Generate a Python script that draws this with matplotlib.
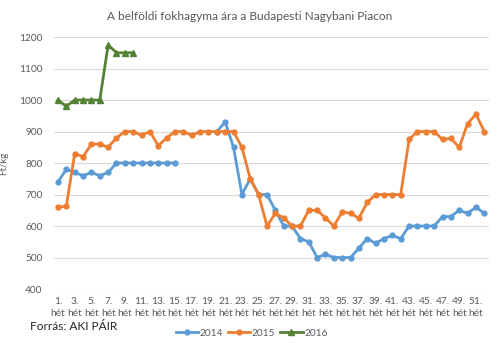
import numpy as np
import matplotlib
matplotlib.use('Agg')
import matplotlib.pyplot as plt

plt.rcParams['font.family'] = ['Lato', 'DejaVu Sans']

nan = np.nan
weeks = list(range(1, 53))
week_labels = ['%d.\nhét' % w if w % 2 == 1 else '' for w in weeks]

# 2014: weeks 16-19 missing
p2014 = [740, 780, 770, 760, 770, 760, 770, 800, 800, 800,
         800, 800, 800, 800, 800, nan, nan, nan, nan, 900,
         930, 850, 700, 750, 700, 700, 650, 600, 600, 560,
         550, 500, 510, 500, 500, 500, 530, 560, 545, 560,
         570, 560, 600, 600, 600, 600, 630, 630, 650, 640,
         660, 640]
p2015 = [660, 663, 830, 820, 860, 860, 850, 880, 900, 900,
         888, 900, 855, 880, 900, 900, 888, 900, 900, 900,
         900, 900, 850, 750, 700, 600, 640, 626, 600, 600,
         650, 650, 626, 600, 645, 640, 625, 675, 700, 700,
         700, 700, 875, 900, 900, 900, 875, 878, 850, 925,
         955, 900]
p2016 = [1000, 980, 1000, 1000, 1000, 1000, 1175, 1150, 1150, 1150]

gray = '#595959'

fig = plt.figure(figsize=(5, 3.46), dpi=100)
ax = fig.add_axes([0.1076, 0.1647, 0.8694, 0.7283])

ax.plot(weeks, p2014, color='#5B9BD5', lw=2, marker='o', ms=3.5, label='2014')
ax.plot(weeks, p2015, color='#ED7D31', lw=2, marker='o', ms=3.5, label='2015')
ax.plot(weeks[:len(p2016)], p2016, color='#548235', lw=2, marker='^', ms=4, label='2016')

ax.set_xlim(0.5, 52.5)
ax.set_ylim(400, 1200)
ax.set_yticks(range(400, 1201, 100))
ax.set_xticks(weeks)
ax.set_xticklabels(week_labels, linespacing=1.45)
ax.tick_params(axis='both', length=0, labelsize=7.3, colors=gray)
ax.tick_params(axis='y', pad=8)
ax.tick_params(axis='x', pad=6)
ax.grid(axis='y', color='#D9D9D9', lw=0.8)
ax.set_axisbelow(True)
for s in ax.spines.values():
    s.set_visible(False)

ax.set_ylabel('Ft/kg', fontsize=7, color=gray, labelpad=8)
fig.text(0.5, 0.953, 'A belföldi fokhagyma ára a Budapesti Nagybani Piacon',
         ha='center', va='center', fontsize=8.6, color=gray)
fig.text(0.06, 0.055, 'Forrás: AKI PÁIR', ha='left', va='center', fontsize=8.6, color='#262626')

ax.legend(loc='center', bbox_to_anchor=(0.455, -0.175), bbox_transform=ax.transAxes,
          ncol=3, frameon=False, fontsize=7.3, labelcolor=gray,
          handlelength=2.2, columnspacing=0.5, handletextpad=0.15)

fig.savefig('out.png', dpi=100, facecolor='white')
